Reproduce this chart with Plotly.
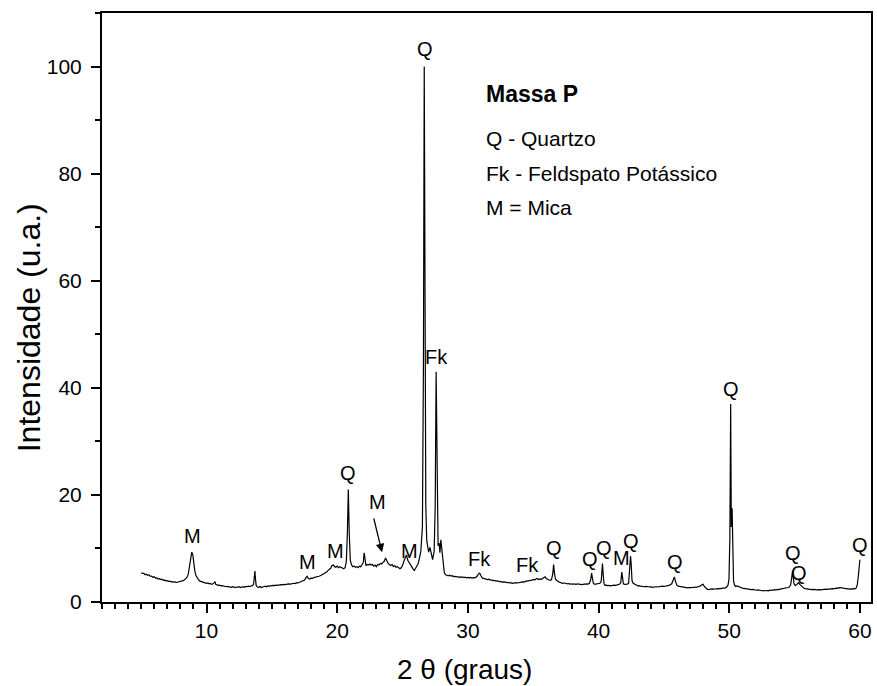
import plotly.graph_objects as go

# (2theta, intensity)
xrd_points = [
    (5.0, 5.4), (5.1, 5.3), (5.2, 5.35), (5.3, 5.1), (5.4, 5.2), (5.5, 5.0), (5.6, 5.05), (5.7, 4.8),
    (5.8, 4.85), (5.9, 4.6), (6.0, 4.7), (6.1, 4.45), (6.2, 4.5), (6.3, 4.3), (6.4, 4.35), (6.5, 4.2),
    (6.6, 4.25), (6.7, 4.05), (6.8, 4.1), (6.9, 3.95), (7.0, 4.0), (7.1, 3.85), (7.2, 3.9), (7.3, 3.75),
    (7.4, 3.8), (7.5, 3.7), (7.6, 3.75), (7.7, 3.65), (7.8, 3.7), (7.9, 3.75), (8.0, 3.8), (8.1, 3.85),
    (8.2, 4.0), (8.3, 4.1), (8.4, 4.3), (8.5, 4.6), (8.6, 5.2), (8.7, 6.5), (8.8, 8.3), (8.87, 9.3),
    (8.95, 8.8), (9.0, 7.6), (9.1, 5.8), (9.2, 4.9), (9.3, 4.4), (9.4, 4.1), (9.5, 3.9), (9.6, 3.8),
    (9.7, 3.65), (9.8, 3.7), (9.9, 3.55), (10.0, 3.5), (10.1, 3.55), (10.2, 3.4), (10.3, 3.45), (10.4, 3.3),
    (10.5, 3.4), (10.6, 3.7), (10.65, 3.8), (10.7, 3.3), (10.8, 3.2), (10.9, 3.1), (11.0, 3.15), (11.1, 3.0),
    (11.2, 3.05), (11.3, 2.95), (11.4, 3.0), (11.5, 2.85), (11.6, 2.9), (11.7, 2.8), (11.8, 2.85), (11.9, 2.75),
    (12.0, 2.85), (12.1, 2.8), (12.2, 2.7), (12.3, 2.8), (12.4, 2.75), (12.5, 2.85), (12.6, 2.7), (12.7, 2.8),
    (12.8, 2.85), (12.9, 2.75), (13.0, 2.9), (13.1, 2.85), (13.2, 2.95), (13.3, 2.9), (13.4, 3.0), (13.5, 3.05),
    (13.6, 3.3), (13.65, 4.6), (13.7, 5.8), (13.75, 4.2), (13.8, 3.1), (13.9, 2.8), (14.0, 2.75), (14.1, 2.9),
    (14.2, 2.7), (14.3, 2.8), (14.4, 2.85), (14.5, 2.95), (14.6, 2.85), (14.7, 3.0), (14.8, 2.95), (14.9, 3.05),
    (15.0, 3.0), (15.1, 3.1), (15.2, 3.05), (15.3, 3.15), (15.4, 3.1), (15.5, 3.2), (15.6, 3.15), (15.7, 3.25),
    (15.8, 3.2), (15.9, 3.3), (16.0, 3.25), (16.1, 3.35), (16.2, 3.3), (16.3, 3.4), (16.4, 3.35), (16.5, 3.45),
    (16.6, 3.4), (16.7, 3.5), (16.8, 3.45), (16.9, 3.6), (17.0, 3.55), (17.1, 3.65), (17.2, 3.7), (17.3, 3.8),
    (17.4, 3.9), (17.5, 4.1), (17.6, 4.5), (17.7, 4.8), (17.8, 4.4), (17.9, 4.3), (18.0, 4.45), (18.1, 4.4),
    (18.2, 4.55), (18.3, 4.6), (18.4, 4.7), (18.5, 4.65), (18.6, 4.8), (18.7, 4.9), (18.8, 5.0), (18.9, 5.1),
    (19.0, 5.3), (19.1, 5.5), (19.2, 5.6), (19.3, 5.9), (19.4, 6.1), (19.5, 6.3), (19.6, 6.8), (19.7, 6.9),
    (19.8, 6.6), (19.9, 6.5), (20.0, 6.7), (20.1, 6.4), (20.2, 6.6), (20.3, 6.5), (20.4, 6.3), (20.5, 6.2),
    (20.6, 6.4), (20.7, 7.6), (20.78, 13.0), (20.85, 21.0), (20.92, 13.0), (21.0, 7.8), (21.1, 6.9), (21.2, 6.6),
    (21.3, 6.7), (21.4, 6.5), (21.5, 6.6), (21.6, 6.4), (21.7, 6.7), (21.8, 6.6), (21.9, 7.0), (22.0, 7.4),
    (22.06, 9.2), (22.12, 7.6), (22.2, 6.8), (22.3, 7.0), (22.4, 6.9), (22.5, 7.1), (22.6, 6.9), (22.7, 7.0),
    (22.8, 6.7), (22.9, 6.9), (23.0, 6.6), (23.1, 7.0), (23.2, 6.9), (23.3, 7.2), (23.4, 7.1), (23.5, 7.4),
    (23.6, 7.6), (23.7, 8.2), (23.8, 7.5), (23.9, 7.2), (24.0, 7.0), (24.1, 6.8), (24.2, 7.0), (24.3, 6.6),
    (24.4, 6.8), (24.5, 6.5), (24.6, 6.6), (24.7, 6.3), (24.8, 6.2), (24.9, 6.4), (25.0, 6.8), (25.1, 7.6),
    (25.2, 8.4), (25.3, 8.8), (25.4, 7.8), (25.5, 7.3), (25.6, 7.0), (25.7, 6.6), (25.8, 6.2), (25.9, 5.9),
    (26.0, 6.3), (26.1, 6.8), (26.2, 7.2), (26.3, 8.3), (26.4, 9.5), (26.52, 14.0), (26.6, 45.0), (26.66, 100.0),
    (26.72, 60.0), (26.78, 18.0), (26.85, 11.5), (26.92, 10.5), (27.0, 9.3), (27.1, 10.2), (27.2, 9.0), (27.3, 7.9),
    (27.42, 9.5), (27.5, 18.0), (27.57, 43.0), (27.62, 30.0), (27.67, 13.0), (27.72, 10.5), (27.8, 11.0), (27.86, 9.2),
    (27.93, 11.6), (27.99, 10.0), (28.05, 8.8), (28.12, 6.5), (28.2, 5.4), (28.3, 5.1), (28.4, 5.0), (28.5, 4.9),
    (28.6, 5.0), (28.7, 4.85), (28.8, 4.9), (28.9, 4.75), (29.0, 4.8), (29.1, 4.7), (29.2, 4.75), (29.3, 4.65),
    (29.4, 4.7), (29.5, 4.6), (29.6, 4.7), (29.7, 4.55), (29.8, 4.65), (29.9, 4.5), (30.0, 4.6), (30.1, 4.5),
    (30.2, 4.6), (30.3, 4.45), (30.4, 4.55), (30.5, 4.5), (30.6, 4.6), (30.7, 4.8), (30.8, 5.2), (30.9, 5.4),
    (31.0, 4.9), (31.1, 4.5), (31.2, 4.4), (31.3, 4.3), (31.4, 4.35), (31.5, 4.2), (31.6, 4.25), (31.7, 4.1),
    (31.8, 4.15), (31.9, 4.0), (32.0, 4.05), (32.1, 3.95), (32.2, 3.9), (32.3, 3.95), (32.4, 3.8), (32.5, 3.85),
    (32.6, 3.7), (32.7, 3.75), (32.8, 3.65), (32.9, 3.7), (33.0, 3.6), (33.1, 3.65), (33.2, 3.55), (33.3, 3.6),
    (33.4, 3.5), (33.5, 3.55), (33.6, 3.5), (33.7, 3.6), (33.8, 3.55), (33.9, 3.65), (34.0, 3.6), (34.1, 3.7),
    (34.2, 3.75), (34.3, 3.7), (34.4, 3.85), (34.5, 3.9), (34.6, 3.85), (34.7, 4.0), (34.8, 3.95), (34.9, 4.1),
    (35.0, 4.2), (35.1, 4.1), (35.2, 4.3), (35.3, 4.4), (35.4, 4.2), (35.5, 4.3), (35.6, 4.2), (35.7, 4.35),
    (35.8, 4.5), (35.9, 4.7), (36.0, 4.4), (36.1, 4.2), (36.2, 4.1), (36.3, 4.05), (36.4, 4.2), (36.5, 5.3),
    (36.56, 7.0), (36.62, 5.5), (36.7, 4.3), (36.8, 4.0), (36.9, 3.8), (37.0, 3.7), (37.1, 3.65), (37.2, 3.5),
    (37.3, 3.55), (37.4, 3.45), (37.5, 3.5), (37.6, 3.4), (37.7, 3.45), (37.8, 3.35), (37.9, 3.4), (38.0, 3.3),
    (38.1, 3.4), (38.2, 3.35), (38.3, 3.3), (38.4, 3.4), (38.5, 3.3), (38.6, 3.35), (38.7, 3.25), (38.8, 3.3),
    (38.9, 3.35), (39.0, 3.3), (39.1, 3.4), (39.2, 3.35), (39.3, 3.5), (39.4, 4.2), (39.47, 5.4), (39.54, 4.3),
    (39.6, 3.5), (39.7, 3.3), (39.8, 3.35), (39.9, 3.4), (40.0, 3.45), (40.1, 3.5), (40.2, 3.8), (40.26, 5.5),
    (40.3, 7.2), (40.36, 5.0), (40.42, 3.4), (40.5, 3.1), (40.6, 3.15), (40.7, 3.05), (40.8, 3.1), (40.9, 3.0),
    (41.0, 3.1), (41.1, 3.05), (41.2, 3.15), (41.3, 3.1), (41.4, 3.2), (41.5, 3.25), (41.6, 3.3), (41.7, 3.6),
    (41.78, 5.6), (41.84, 4.5), (41.9, 3.4), (42.0, 3.3), (42.1, 3.3), (42.2, 3.35), (42.3, 3.5), (42.38, 5.5),
    (42.45, 8.6), (42.5, 7.0), (42.56, 4.0), (42.65, 3.5), (42.75, 3.4), (42.85, 3.2), (42.95, 3.1), (43.0, 3.0),
    (43.1, 3.05), (43.2, 2.95), (43.3, 2.9), (43.4, 2.95), (43.5, 2.85), (43.6, 2.9), (43.7, 2.8), (43.8, 2.85),
    (43.9, 2.8), (44.0, 2.85), (44.1, 2.75), (44.2, 2.8), (44.3, 2.75), (44.4, 2.85), (44.5, 2.8), (44.6, 2.85),
    (44.7, 2.9), (44.8, 2.85), (44.9, 2.95), (45.0, 2.9), (45.1, 3.0), (45.2, 2.95), (45.3, 3.05), (45.4, 3.1),
    (45.5, 3.2), (45.6, 3.4), (45.7, 4.0), (45.8, 4.7), (45.88, 3.9), (45.95, 3.3), (46.0, 3.1), (46.1, 2.95),
    (46.2, 2.9), (46.3, 2.85), (46.4, 2.8), (46.5, 2.75), (46.6, 2.7), (46.7, 2.75), (46.8, 2.65), (46.9, 2.7),
    (47.0, 2.65), (47.1, 2.7), (47.2, 2.75), (47.3, 2.7), (47.4, 2.8), (47.5, 2.75), (47.6, 2.85), (47.7, 2.9),
    (47.8, 3.0), (47.9, 3.2), (48.0, 3.3), (48.1, 2.9), (48.2, 2.6), (48.3, 2.4), (48.4, 2.3), (48.5, 2.4),
    (48.6, 2.35), (48.7, 2.45), (48.8, 2.4), (48.9, 2.5), (49.0, 2.45), (49.1, 2.5), (49.2, 2.45), (49.3, 2.55),
    (49.4, 2.5), (49.5, 2.6), (49.6, 2.55), (49.7, 2.6), (49.8, 2.8), (49.9, 3.1), (49.98, 4.2), (50.05, 12.0),
    (50.11, 37.0), (50.16, 14.0), (50.22, 17.5), (50.27, 8.0), (50.33, 4.0), (50.4, 3.2), (50.5, 2.9), (50.6, 3.0),
    (50.7, 2.85), (50.8, 2.8), (50.9, 2.7), (51.0, 2.6), (51.1, 2.55), (51.2, 2.5), (51.3, 2.45), (51.4, 2.4),
    (51.5, 2.35), (51.6, 2.4), (51.7, 2.3), (51.8, 2.35), (51.9, 2.25), (52.0, 2.3), (52.1, 2.2), (52.2, 2.25),
    (52.3, 2.15), (52.4, 2.2), (52.5, 2.1), (52.6, 2.15), (52.7, 2.05), (52.8, 2.1), (52.9, 2.15), (53.0, 2.1),
    (53.1, 2.2), (53.2, 2.15), (53.3, 2.25), (53.4, 2.2), (53.5, 2.3), (53.6, 2.25), (53.7, 2.35), (53.8, 2.3),
    (53.9, 2.4), (54.0, 2.45), (54.1, 2.4), (54.2, 2.5), (54.3, 2.55), (54.4, 2.6), (54.5, 2.7), (54.6, 2.8),
    (54.7, 3.2), (54.78, 4.5), (54.85, 5.8), (54.9, 4.6), (54.96, 3.4), (55.05, 3.1), (55.15, 3.2), (55.25, 3.5),
    (55.32, 3.6), (55.4, 3.3), (55.5, 3.0), (55.6, 2.8), (55.7, 2.6), (55.8, 2.5), (55.9, 2.45), (56.0, 2.4),
    (56.1, 2.35), (56.2, 2.4), (56.3, 2.3), (56.4, 2.35), (56.5, 2.25), (56.6, 2.3), (56.7, 2.25), (56.8, 2.35),
    (56.9, 2.3), (57.0, 2.25), (57.1, 2.3), (57.2, 2.35), (57.3, 2.3), (57.4, 2.4), (57.5, 2.35), (57.6, 2.4),
    (57.7, 2.45), (57.8, 2.4), (57.9, 2.5), (58.0, 2.45), (58.1, 2.55), (58.2, 2.6), (58.3, 2.55), (58.4, 2.7),
    (58.5, 2.65), (58.6, 2.7), (58.7, 2.6), (58.8, 2.55), (58.9, 2.5), (59.0, 2.45), (59.1, 2.5), (59.2, 2.4),
    (59.3, 2.45), (59.4, 2.4), (59.5, 2.5), (59.6, 2.45), (59.7, 2.55), (59.8, 3.2), (59.88, 4.8), (59.94, 6.5),
    (60.0, 7.9),
]
two_theta = [p[0] for p in xrd_points]
intensity = [p[1] for p in xrd_points]

# Phase labels: (text, 2theta, intensity position)
peak_labels = [
    ("M", 8.94, 12.3), ("M", 17.76, 7.5), ("M", 19.85, 9.6), ("M", 23.1, 18.7), ("M", 25.52, 9.6),
    ("Q", 20.81, 24.1), ("Q", 26.75, 103.3), ("Fk", 27.62, 45.8), ("Fk", 30.86, 8.1), ("Fk", 34.54, 6.85),
    ("Q", 36.58, 10.0), ("Q", 39.35, 7.97), ("Q", 40.4, 10.0), ("M", 41.79, 8.3), ("Q", 42.52, 11.4),
    ("Q", 45.86, 7.5), ("Q", 50.13, 39.8), ("Q", 54.85, 9.2), ("Q", 55.36, 5.5), ("Q", 59.97, 10.6),
]
arrow_tail = (22.77, 15.9)
arrow_tip = (23.43, 9.3)

legend_title = "Massa P"
legend_lines = ["Q - Quartzo", "Fk - Feldspato Potássico", "M = Mica"]
legend_x = 31.24
legend_title_y = 94.85
legend_line_y = [86.57, 80.04, 73.7]

x_title = "2 θ (graus)"
y_title = "Intensidade (u.a.)"

FONT = "Liberation Sans, Arial, Helvetica, sans-serif"

fig = go.Figure()
fig.add_trace(go.Scatter(x=two_theta, y=intensity, mode="lines",
                         line=dict(color="black", width=1.2), showlegend=False, hoverinfo="skip"))

ann = []
for txt, x, y in peak_labels:
    ann.append(dict(x=x, y=y, xref="x", yref="y", text=txt, showarrow=False,
                    xanchor="center", yanchor="middle", font=dict(size=20, color="black", family=FONT)))
ann.append(dict(x=arrow_tip[0], y=arrow_tip[1], ax=arrow_tail[0], ay=arrow_tail[1],
                xref="x", yref="y", axref="x", ayref="y", text="", showarrow=True,
                arrowhead=2, arrowsize=1.3, arrowwidth=1.3, arrowcolor="black", standoff=0))
ann.append(dict(x=legend_x, y=legend_title_y, xref="x", yref="y", text="<b>" + legend_title + "</b>",
                showarrow=False, xanchor="left", yanchor="middle",
                font=dict(size=23, color="black", family=FONT)))
for t, y in zip(legend_lines, legend_line_y):
    ann.append(dict(x=legend_x, y=y, xref="x", yref="y", text=t, showarrow=False,
                    xanchor="left", yanchor="middle", font=dict(size=21, color="black", family=FONT)))
# axis titles
ann.append(dict(x=0.4708, y=-0.1154, xref="paper", yref="paper", text=x_title, showarrow=False,
                xanchor="center", yanchor="middle", font=dict(size=28, color="black", family=FONT)))
ann.append(dict(x=-0.0947, y=0.465, xref="paper", yref="paper", text=y_title, showarrow=False,
                textangle=-90, xanchor="center", yanchor="middle",
                font=dict(size=32, color="black", family=FONT)))

axis_common = dict(showline=True, linewidth=2, linecolor="black", mirror=True,
                   ticks="outside", tickwidth=2, tickcolor="black", ticklen=9,
                   showgrid=False, zeroline=False,
                   tickfont=dict(size=21, color="black", family=FONT))

fig.update_layout(
    width=877, height=686,
    margin=dict(l=102, r=4, t=13, b=84),
    paper_bgcolor="white", plot_bgcolor="white",
    font=dict(family=FONT, color="black"),
    xaxis=dict(range=[2, 60.85], tick0=0, dtick=10,
               minor=dict(dtick=1, ticklen=5, tickwidth=2, tickcolor="black", ticks="outside"),
               **axis_common),
    yaxis=dict(range=[0, 110], tick0=0, dtick=20, ticklabelstandoff=5,
               minor=dict(dtick=10, ticklen=5, tickwidth=2, tickcolor="black", ticks="outside"),
               **axis_common),
    annotations=ann,
)

fig.write_html("out.html")
